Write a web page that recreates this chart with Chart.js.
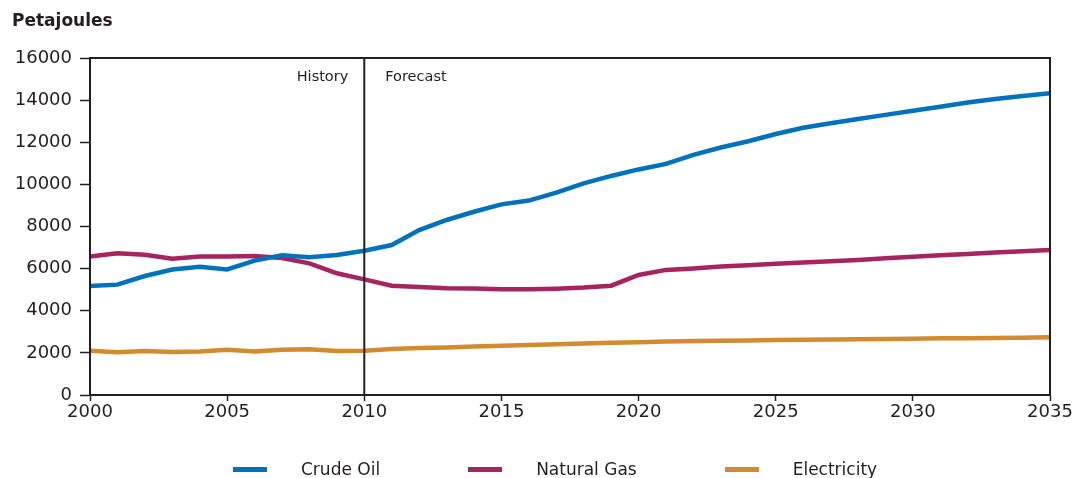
<!DOCTYPE html>
<html>
<head>
<meta charset="utf-8">
<script src="https://cdn.jsdelivr.net/npm/chart.js@4/dist/chart.umd.min.js"></script>
<style>
    body { margin: 0; background: #fff; }
    .wrap { position: relative; width: 1085px; height: 478px; }
    .unit {
        position: absolute; left: 12px; top: 10px;
        font: bold 17px 'DejaVu Sans', sans-serif; color: #231f20;
    }
    #legend {
        position: absolute; left: 233px; top: 459px;
        display: flex; align-items: center; gap: 88px;
        font: 17px 'DejaVu Sans', sans-serif; color: #231f20;
    }
    #legend .item { display: flex; align-items: center; }
    #legend .swatch { width: 34px; height: 5px; margin-right: 34px; }
</style>
</head>
<body>
<div class="wrap">
    <canvas id="energyChart" width="1085" height="478"></canvas>
    <div class="unit">Petajoules</div>
    <div id="legend"></div>
</div>
<script>
const years = [
    2000, 2001, 2002, 2003, 2004, 2005, 2006, 2007, 2008, 2009,
    2010, 2011, 2012, 2013, 2014, 2015, 2016, 2017, 2018, 2019,
    2020, 2021, 2022, 2023, 2024, 2025, 2026, 2027, 2028, 2029,
    2030, 2031, 2032, 2033, 2034, 2035
];

const crudeOil = [
    5170, 5240, 5650, 5960, 6090, 5960, 6380, 6630, 6540, 6650,
    6850, 7120, 7830, 8310, 8700, 9050, 9230, 9610, 10050, 10400,
    10710, 10970, 11400, 11750, 12050, 12390, 12690, 12900, 13100, 13300,
    13500, 13690, 13890, 14050, 14200, 14330
];

const naturalGas = [
    6570, 6730, 6660, 6470, 6570, 6580, 6600, 6500, 6250, 5780,
    5490, 5190, 5130, 5070, 5060, 5020, 5020, 5050, 5100, 5190,
    5700, 5940, 6010, 6100, 6160, 6230, 6290, 6350, 6410, 6490,
    6560, 6630, 6700, 6760, 6820, 6880
];

const electricity = [
    2100, 2030, 2090, 2040, 2060, 2150, 2070, 2150, 2170, 2090,
    2100, 2180, 2230, 2260, 2300, 2340, 2370, 2410, 2440, 2480,
    2510, 2540, 2560, 2570, 2590, 2610, 2620, 2640, 2650, 2660,
    2670, 2690, 2700, 2710, 2720, 2740
];

const yTicks = [0, 2000, 4000, 6000, 8000, 10000, 12000, 14000, 16000];
const xTicks = [2000, 2005, 2010, 2015, 2020, 2025, 2030, 2035];
const seriesNames = ['Crude Oil', 'Natural Gas', 'Electricity'];
const dividerYear = 2010;

const ink = '#231f20';
const palette = ['#0072bc', '#a6245f', '#d38b2f'];

Chart.defaults.font.family = "'DejaVu Sans', sans-serif";
Chart.defaults.color = ink;

const toPoints = (values) => values.map((v, i) => ({ x: years[i], y: v }));

// frame round the plot and the history / forecast divider
const framePlugin = {
    id: 'frame',
    afterDraw(chart) {
        const { ctx, chartArea: a, scales } = chart;
        const xDiv = scales.x.getPixelForValue(dividerYear);
        ctx.save();
        ctx.strokeStyle = ink;
        ctx.lineWidth = 2;
        ctx.strokeRect(a.left, a.top, a.right - a.left, a.bottom - a.top);
        ctx.beginPath();
        ctx.moveTo(xDiv, a.top);
        ctx.lineTo(xDiv, a.bottom);
        ctx.stroke();

        ctx.fillStyle = ink;
        ctx.font = "14.5px 'DejaVu Sans', sans-serif";
        ctx.textBaseline = 'middle';
        ctx.textAlign = 'right';
        ctx.fillText('History', xDiv - 16, a.top + 19);
        ctx.textAlign = 'left';
        ctx.fillText('Forecast', xDiv + 21, a.top + 19);
        ctx.restore();
    }
};

const chart = new Chart(document.getElementById('energyChart'), {
    type: 'line',
    data: {
        datasets: [crudeOil, naturalGas, electricity].map((values, i) => ({
            label: seriesNames[i],
            data: toPoints(values),
            borderColor: palette[i],
            backgroundColor: palette[i],
            borderWidth: 4.5,
            pointRadius: 0,
            tension: 0,
            fill: false
        }))
    },
    options: {
        responsive: false,
        animation: false,
        layout: { padding: { left: 0, right: 35, top: 58, bottom: 53 } },
        plugins: {
            legend: { display: false },
            tooltip: { enabled: false }
        },
        scales: {
            x: {
                type: 'linear',
                min: xTicks[0],
                max: xTicks[xTicks.length - 1],
                afterFit: (scale) => { scale.height = 30; },
                afterBuildTicks: (scale) => { scale.ticks = xTicks.map((v) => ({ value: v })); },
                ticks: {
                    padding: 1,
                    font: { size: 18 },
                    callback: (v) => String(v)
                },
                grid: { drawOnChartArea: false, tickLength: 6, color: ink, tickWidth: 1.5 },
                border: { color: ink, width: 2 }
            },
            y: {
                min: yTicks[0],
                max: yTicks[yTicks.length - 1],
                afterFit: (scale) => { scale.width = 90; },
                afterBuildTicks: (scale) => { scale.ticks = yTicks.map((v) => ({ value: v })); },
                ticks: {
                    padding: 8,
                    font: { size: 18 },
                    callback: (v) => String(v)
                },
                grid: { drawOnChartArea: false, tickLength: 10, color: ink, tickWidth: 1.5 },
                border: { color: ink, width: 2 }
            }
        }
    },
    plugins: [framePlugin]
});

document.getElementById('legend').innerHTML = chart.data.datasets.map((ds) => `
    <div class="item">
        <span class="swatch" style="background:${ds.borderColor}"></span>
        <span>${ds.label}</span>
    </div>
`).join('');
</script>
</body>
</html>
